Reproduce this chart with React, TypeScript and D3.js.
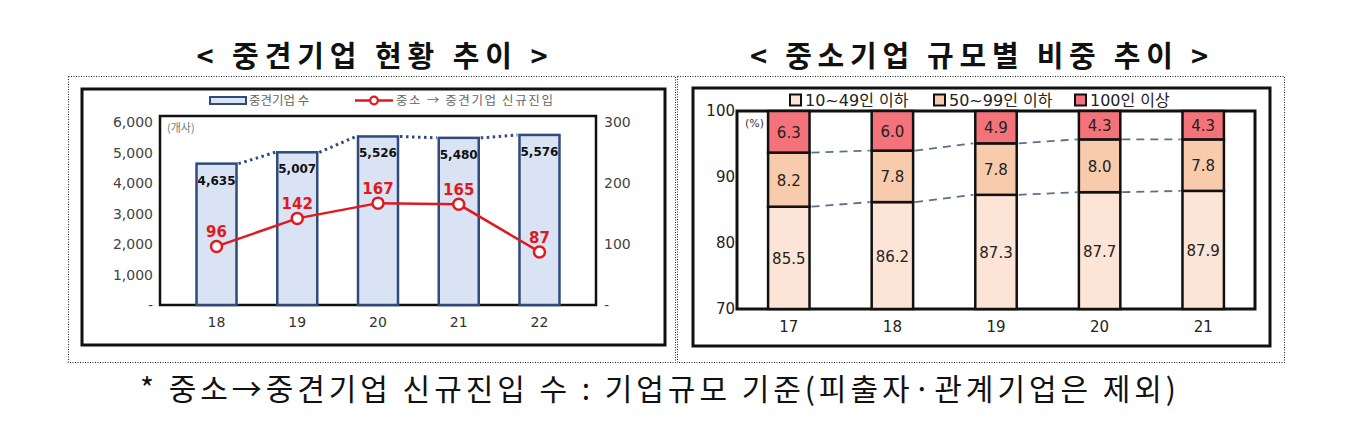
import React from "react";
import * as d3 from "d3";

// ---------- Data ----------
const leftTitle = "< 중견기업 현황 추이 >";
const rightTitle = "< 중소기업 규모별 비중 추이 >";
const footnote = "* 중소→중견기업 신규진입 수 : 기업규모 기준(피출자·관계기업은 제외)";

const leftYears = ["18", "19", "20", "21", "22"];
const midFirmCounts = [4635, 5007, 5526, 5480, 5576];
const newEntrants = [96, 142, 167, 165, 87];
const leftTicks = [0, 1000, 2000, 3000, 4000, 5000, 6000];
const rightTicksLeft = [0, 100, 200, 300];
const leftLegend = ["중견기업 수", "중소 → 중견기업 신규진입"];
const leftUnit = "(개사)";

const rightYears = ["17", "18", "19", "20", "21"];
const share10to49 = [85.5, 86.2, 87.3, 87.7, 87.9];
const share50to99 = [8.2, 7.8, 7.8, 8.0, 7.8];
const share100plus = [6.3, 6.0, 4.9, 4.3, 4.3];
const rightTicks = [70, 80, 90, 100];
const rightLegend = ["10~49인 이하", "50~99인 이하", "100인 이상"];
const rightUnit = "(%)";

const KR = "'Noto Sans CJK KR', 'Noto Sans', sans-serif";
const NUM = "'DejaVu Sans', Verdana, sans-serif";
const MIX = "'DejaVu Sans', 'Noto Sans CJK KR', sans-serif";

export default function App() {
  // ---------- Left chart scales ----------
  const lx = d3.scalePoint<string>().domain(leftYears).range([160, 596]).padding(0.7);
  const ly = d3.scaleLinear().domain([0, 6000]).range([305, 122]);
  const ly2 = d3.scaleLinear().domain([0, 300]).range([305, 122]);
  const barW = 40;
  const line = d3
    .line<number>()
    .x((_, i) => lx(leftYears[i])!)
    .y((d) => ly2(d));
  const fmt = d3.format(",");

  // ---------- Right chart scales ----------
  const rx = d3.scaleBand<string>().domain(rightYears).range([737, 1255]).paddingInner(0.6).paddingOuter(0.3);
  const ry = d3.scaleLinear().domain([70, 100]).range([309, 111]);
  const segColors = ["#fce4d6", "#f8cbad", "#f4737a"];
  const stackData = rightYears.map((y, i) => ({ year: y, a: share10to49[i], b: share50to99[i], c: share100plus[i] }));
  const stack = d3.stack<any>().keys(["a", "b", "c"])(stackData);

  return (
    <svg width={1367} height={430} style={{ position: "absolute", left: 0, top: 0, background: "#fff" }}>
      {/* Titles */}
      <text x={372} y={67} textAnchor="middle" fontFamily={KR} fontWeight={700} fontSize={29} textLength={351} lengthAdjust="spacing" fill="#111">
        {leftTitle}
      </text>
      <text x={979} y={67} textAnchor="middle" fontFamily={KR} fontWeight={700} fontSize={29} textLength={458} lengthAdjust="spacing" fill="#111">
        {rightTitle}
      </text>

      {/* Dotted panels */}
      <rect x={68.5} y={76.5} width={607} height={286} fill="none" stroke="#222" strokeWidth={1} strokeDasharray="1,1.5" />
      <rect x={677.5} y={76.5} width={607} height={286} fill="none" stroke="#222" strokeWidth={1} strokeDasharray="1,1.5" />

      {/* ---------- LEFT CHART ---------- */}
      <rect x={82} y={89} width={583} height={256} fill="none" stroke="#111" strokeWidth={3} />
      {/* legend */}
      <rect x={210} y={97} width={36} height={7} fill="#dae3f3" stroke="#2f4b7c" strokeWidth={2} />
      <text x={249} y={105} fontFamily={KR} fontSize={12.5} fill="#666">{leftLegend[0]}</text>
      <line x1={355} x2={393} y1={100.5} y2={100.5} stroke="#e0191e" strokeWidth={2.5} />
      <circle cx={374} cy={100.5} r={3.8} fill="#fff" stroke="#e0191e" strokeWidth={2.2} />
      <text x={396} y={105} fontFamily={KR} fontSize={12.5} fill="#666" textLength={157} lengthAdjust="spacing">{leftLegend[1]}</text>

      {/* plot frame */}
      <rect x={160} y={116} width={436} height={189} fill="#fff" stroke="#111" strokeWidth={2.5} />
      <text x={167} y={132} fontFamily={KR} fontSize={11} fill="#777">{leftUnit}</text>

      {/* left axis ticks */}
      {leftTicks.map((t) => (
        <text key={"lt" + t} x={153} y={ly(t) + 5} textAnchor="end" fontFamily={NUM} fontSize={14} fill="#444">
          {t === 0 ? "-" : fmt(t)}
        </text>
      ))}
      {rightTicksLeft.map((t) => (
        <text key={"rt" + t} x={604} y={ly2(t) + 5} textAnchor="start" fontFamily={NUM} fontSize={14} fill="#444">
          {t === 0 ? "-" : t}
        </text>
      ))}
      {leftYears.map((y) => (
        <text key={"lx" + y} x={lx(y)} y={327} textAnchor="middle" fontFamily={NUM} fontSize={14} fill="#333">
          {y}
        </text>
      ))}

      {/* bars */}
      {midFirmCounts.map((v, i) => (
        <rect key={"b" + i} x={lx(leftYears[i])! - barW / 2} y={ly(v)} width={barW} height={ly(0) - ly(v)} fill="#dae3f3" stroke="#2f4b7c" strokeWidth={2.5} />
      ))}
      {/* dotted connectors */}
      {midFirmCounts.slice(0, -1).map((v, i) => (
        <line
          key={"dc" + i}
          x1={lx(leftYears[i])! + barW / 2 + 2}
          y1={ly(v)}
          x2={lx(leftYears[i + 1])! - barW / 2 - 2}
          y2={ly(midFirmCounts[i + 1])}
          stroke="#2f4b7c"
          strokeWidth={3}
          strokeDasharray="2.5,3.5"
        />
      ))}
      {midFirmCounts.map((v, i) => (
        <text key={"bl" + i} x={lx(leftYears[i])} y={ly(v) + 21} textAnchor="middle" fontFamily={NUM} fontWeight={700} fontSize={12} fill="#111">
          {fmt(v)}
        </text>
      ))}

      {/* red line */}
      <path d={line(newEntrants) || ""} fill="none" stroke="#e0191e" strokeWidth={2.5} />
      {newEntrants.map((v, i) => (
        <circle key={"c" + i} cx={lx(leftYears[i])} cy={ly2(v)} r={5.5} fill="#fff" stroke="#e0191e" strokeWidth={2.5} />
      ))}
      {newEntrants.map((v, i) => (
        <text key={"cl" + i} x={lx(leftYears[i])} y={ly2(v) - 9} textAnchor="middle" fontFamily={NUM} fontWeight={700} fontSize={15} fill="#e0191e">
          {v}
        </text>
      ))}

      {/* ---------- RIGHT CHART ---------- */}
      <rect x={693} y={88} width={577} height={258} fill="none" stroke="#111" strokeWidth={3} />
      {/* legend */}
      {rightLegend.map((t, i) => {
        const xs = [790, 934, 1075];
        return (
          <g key={"rl" + i}>
            <rect x={xs[i]} y={94.5} width={11} height={11} fill={segColors[i]} stroke="#111" strokeWidth={2} />
            <text x={xs[i] + 15} y={106} fontFamily={MIX} fontSize={16} fill="#222">
              {t}
            </text>
          </g>
        );
      })}

      <rect x={737} y={111} width={518} height={198} fill="#fff" stroke="#111" strokeWidth={3} />
      <text x={745} y={127} fontFamily={NUM} fontSize={11} fill="#333">{rightUnit}</text>

      {rightTicks.map((t) => (
        <text key={"ry" + t} x={735} y={ry(t) + 5} textAnchor="end" fontFamily={NUM} fontSize={15} fill="#222">
          {t}
        </text>
      ))}
      {rightYears.map((y) => (
        <text key={"rx" + y} x={rx(y)! + rx.bandwidth() / 2} y={332} textAnchor="middle" fontFamily={NUM} fontSize={15} fill="#222">
          {y}
        </text>
      ))}

      {/* stacked bars */}
      {stack.map((layer, li) =>
        layer.map((d, i) => (
          <rect
            key={"s" + li + "-" + i}
            x={rx(rightYears[i])}
            y={ry(d[1])}
            width={rx.bandwidth()}
            height={ry(d[0] < 70 ? 70 : d[0]) - ry(d[1])}
            fill={segColors[li]}
            stroke="#111"
            strokeWidth={2.5}
          />
        ))
      )}
      {/* dashed connectors */}
      {[0, 1].map((li) =>
        rightYears.slice(0, -1).map((y, i) => (
          <line
            key={"dl" + li + "-" + i}
            x1={rx(y)! + rx.bandwidth() + 2}
            y1={ry(stack[li][i][1])}
            x2={rx(rightYears[i + 1])! - 2}
            y2={ry(stack[li][i + 1][1])}
            stroke="#5b6f8a"
            strokeWidth={1.8}
            strokeDasharray="8,6"
          />
        ))
      )}
      {/* segment labels */}
      {stack.map((layer, li) =>
        layer.map((d, i) => {
          const vals = [share10to49, share50to99, share100plus][li];
          const lo = Math.max(d[0], 70);
          return (
            <text
              key={"sl" + li + "-" + i}
              x={rx(rightYears[i])! + rx.bandwidth() / 2}
              y={(ry(lo) + ry(d[1])) / 2 + 6}
              textAnchor="middle"
              fontFamily={NUM}
              fontSize={15}
              fill="#222"
            >
              {vals[i].toFixed(1)}
            </text>
          );
        })
      )}

      {/* footnote */}
      <text x={658} y={400} textAnchor="middle" fontFamily={KR} fontSize={30} fill="#111" textLength={1036} lengthAdjust="spacing">
        {footnote}
      </text>
    </svg>
  );
}
